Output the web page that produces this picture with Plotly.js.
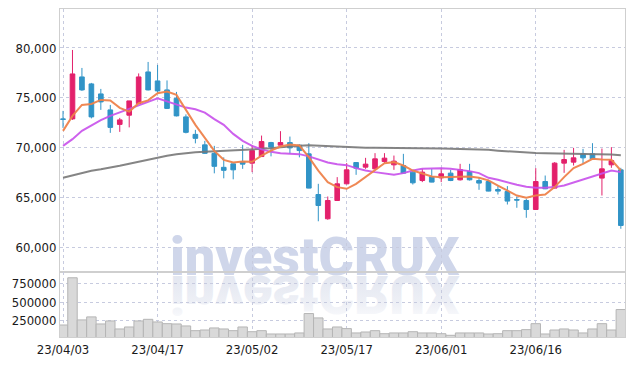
<!DOCTYPE html>
<html><head><meta charset="utf-8">
<script src="https://cdn.plot.ly/plotly-3.0.1.min.js"></script>
<style>html,body{margin:0;padding:0;background:#fff}#chart{width:634px;height:366px}</style>
</head><body><div id="chart"></div>
<script>
const dates = ["23/04/03","23/04/04","23/04/05","23/04/06","23/04/07","23/04/10","23/04/11","23/04/12","23/04/13","23/04/14",
"23/04/17","23/04/18","23/04/19","23/04/20","23/04/21","23/04/24","23/04/25","23/04/26","23/04/27","23/04/28",
"23/05/02","23/05/03","23/05/04","23/05/08","23/05/09","23/05/10","23/05/11","23/05/12","23/05/15","23/05/16",
"23/05/17","23/05/18","23/05/19","23/05/22","23/05/23","23/05/24","23/05/25","23/05/26","23/05/30","23/05/31",
"23/06/01","23/06/02","23/06/05","23/06/07","23/06/08","23/06/09","23/06/12","23/06/13","23/06/14","23/06/15",
"23/06/16","23/06/19","23/06/20","23/06/21","23/06/22","23/06/23","23/06/26","23/06/27","23/06/28","23/06/29"];
const openP = [72900,72900,77100,76400,75400,73800,72350,73270,74430,77600,
76700,75800,74950,73100,71350,70300,69450,68050,68400,68600,
68470,69130,70530,70270,70530,70270,69400,65330,62900,64730,
66400,68530,68070,67900,68630,68300,68230,67570,66730,67130,
67000,67470,66800,67630,66730,66630,65830,65630,64830,64730,
63830,66630,65970,68470,68570,69400,69400,66970,68300,67800];
const highP = [73700,79800,78000,76500,75900,74300,73000,74700,77450,78600,
78300,76750,75600,73350,71800,70700,70200,69050,68450,70300,
70270,71230,70600,71670,71130,70350,70470,66400,65130,67070,
68470,68550,69000,69470,69470,69230,69400,67700,67900,67900,
68000,67800,68400,68400,67070,66800,66170,66170,65130,64900,
67970,67230,68570,69800,70000,69900,70470,69930,70070,68000];
const lowP = [72000,72800,75700,72950,73800,71500,71600,72050,74400,75750,
75500,73900,73150,71450,70450,69400,67450,66950,66850,67900,
67570,69100,69150,70250,69400,69050,65950,62650,62800,64700,
66350,67300,67900,67850,68470,67800,67400,66330,66570,66550,
66570,66670,66730,66730,65800,65650,65330,64330,64000,63000,
63800,65870,65950,67500,68230,68400,68880,65230,68000,61900];
const closeP = [72850,77400,75800,73100,74600,72050,72800,74700,77100,75800,
75700,73950,73200,71550,70950,69450,68150,67750,67800,68370,
69730,70630,70070,70530,70000,69730,65970,64230,64730,66400,
67800,67970,68370,68900,68970,68670,67470,66500,67570,66570,
67400,66730,67830,66800,66470,65670,65670,64670,64770,63830,
66630,65900,68470,68830,69000,69000,68900,67900,68730,62230];
const ma5 = [71700,73200,74300,74400,74800,74750,74000,73630,74470,74750,
75470,75630,75300,73800,72300,71000,69700,68800,68530,68630,
68600,69230,69730,70130,70330,70230,69070,67730,66570,66070,
65900,66400,67070,67800,68470,68570,68230,67730,67400,67130,
67070,67070,67130,67130,67000,66750,66230,65730,65230,65000,
65230,65330,66070,67070,67970,68400,68900,68830,68800,67730];
const ma20 = [70200,70870,71700,72270,72770,73200,73530,73870,74200,74600,
74970,74630,74300,74030,73870,73530,72870,72300,71400,70700,
70200,69850,69600,69450,69420,69370,69150,68800,68530,68370,
68270,67970,67730,67570,67400,67300,67470,67730,67900,67970,
67970,67900,67800,67670,67470,67000,66800,66530,66300,66100,
66000,66000,66070,66230,66530,66830,67070,67400,67730,67570];
const ma120 = [67000,67250,67500,67700,67850,68000,68200,68400,68600,68850,
69050,69200,69350,69480,69550,69600,69650,69700,69720,69750,
69780,69850,69950,70050,70150,70200,70250,70200,70150,70100,
70050,70030,70000,70000,70000,69980,69970,69950,69940,69930,
69930,69900,69880,69860,69830,69800,69720,69650,69580,69520,
69480,69450,69430,69420,69420,69420,69400,69380,69330,69250];
const volume = [190000,831000,259000,300000,204000,245000,136000,163000,245000,267000,
231000,208000,204000,177000,113000,122000,150000,136000,113000,163000,
99000,113000,68000,68000,68000,82000,345000,286000,136000,163000,
141000,82000,95000,113000,72000,82000,82000,99000,82000,82000,
72000,50000,82000,82000,82000,68000,72000,113000,113000,127000,
208000,68000,122000,136000,122000,82000,136000,208000,122000,400000];
const xTicks = ["23/04/03","23/04/17","23/05/02","23/05/17","23/06/01","23/06/16"];
const priceTicks = [60000,65000,70000,75000,80000];
const volTicks = [250000,500000,750000];
const watermark = "investCRUX";

const RED = '#e3206b', BLUE = '#3194c7';
const tickFont = {family:'"DejaVu Sans Condensed","DejaVu Sans",sans-serif', size:13, color:'#1a1a1a'};
const grid = {showgrid:true, gridcolor:'#c7cbdf', griddash:'dot', gridwidth:1};

const traces = [
  {type:'bar', x:dates, y:volume, xaxis:'x', yaxis:'y2',
   marker:{color:'#d9d9d9', line:{color:'#b5b5b5', width:1}}, hoverinfo:'skip'},
  {type:'scatter', mode:'lines', x:dates, y:ma120, yaxis:'y', line:{color:'rgba(120,120,120,0.9)', width:2}, hoverinfo:'skip'},
  {type:'scatter', mode:'lines', x:dates, y:ma20, yaxis:'y', line:{color:'rgba(200,80,235,0.9)', width:2}, hoverinfo:'skip'},
  {type:'scatter', mode:'lines', x:dates, y:ma5, yaxis:'y', line:{color:'rgba(238,130,75,0.95)', width:2}, hoverinfo:'skip'},
  {type:'candlestick', x:dates, open:openP, high:highP, low:lowP, close:closeP, yaxis:'y',
   increasing:{line:{color:RED, width:1}, fillcolor:RED},
   decreasing:{line:{color:BLUE, width:1}, fillcolor:BLUE},
   whiskerwidth:0, hoverinfo:'skip'}
];

const wmFont = {family:'Roboto, "Liberation Sans", sans-serif', size:54, weight:900};
const layout = {
  width:634, height:366,
  margin:{l:60, r:9, t:9, b:29},
  paper_bgcolor:'#fff', plot_bgcolor:'#fff',
  showlegend:false, hovermode:false, bargap:0,
  xaxis:Object.assign({type:'category', range:[-0.32,59.44], anchor:'y2',
    tickvals:xTicks, ticktext:xTicks, tickfont:tickFont, ticks:'',
    showline:true, linecolor:'#cfcfcf', linewidth:1, mirror:'all',
    rangeslider:{visible:false}, zeroline:false, fixedrange:true}, grid),
  yaxis:Object.assign({domain:[0.199,1], range:[57600,83900], tickvals:priceTicks,
    tickformat:',d', tickfont:tickFont, ticks:'', showline:true, linecolor:'#cfcfcf',
    mirror:'all', zeroline:false}, grid),
  yaxis2:Object.assign({domain:[0,0.199], range:[27000,913000], tickvals:volTicks,
    tickformat:'d', tickfont:tickFont, ticks:'', showline:true, linecolor:'#cfcfcf',
    mirror:'all', zeroline:false}, grid),
  annotations:[
    {text:watermark, xref:'paper', yref:'paper', x:0.4516, y:0.2466, xanchor:'center', yanchor:'middle',
     showarrow:false, font:Object.assign({color:'#cfd6ea'}, wmFont)},
    {text:watermark, xref:'paper', yref:'paper', x:0.4516, y:0.2466, xanchor:'center', yanchor:'middle',
     showarrow:false, font:Object.assign({color:'#e3e6f0'}, wmFont)}
  ]
};
Plotly.newPlot('chart', traces, layout, {staticPlot:true, displayModeBar:false}).then(function(gd){
  const below = gd.querySelector('svg.main-svg .layer-below');
  const mainSvg = gd.querySelector('svg.main-svg');
  // gradient for the reflection
  const NS = 'http://www.w3.org/2000/svg';
  let defs = mainSvg.querySelector('defs');
  const lg = document.createElementNS(NS,'linearGradient');
  lg.setAttribute('id','wmfade'); lg.setAttribute('x1','0'); lg.setAttribute('y1','0');
  lg.setAttribute('x2','0'); lg.setAttribute('y2','1');
  [['0','#ffffff','1'],['0.35','#eef0f6','1'],['1','#dfe3ee','1']].forEach(function(s){
    const st = document.createElementNS(NS,'stop');
    st.setAttribute('offset',s[0]); st.setAttribute('stop-color',s[1]); st.setAttribute('stop-opacity',s[2]);
    lg.appendChild(st);
  });
  defs.appendChild(lg);
  const anns = gd.querySelectorAll('g.annotation');
  anns.forEach(function(a, i){
    below.appendChild(a);
    if(i === 1){
      a.setAttribute('transform','translate(0,551) scale(1,-1)');
      const t = a.querySelector('text');
      if(t){ t.style.fill = 'url(#wmfade)'; }
    }
  });
});
</script></body></html>
